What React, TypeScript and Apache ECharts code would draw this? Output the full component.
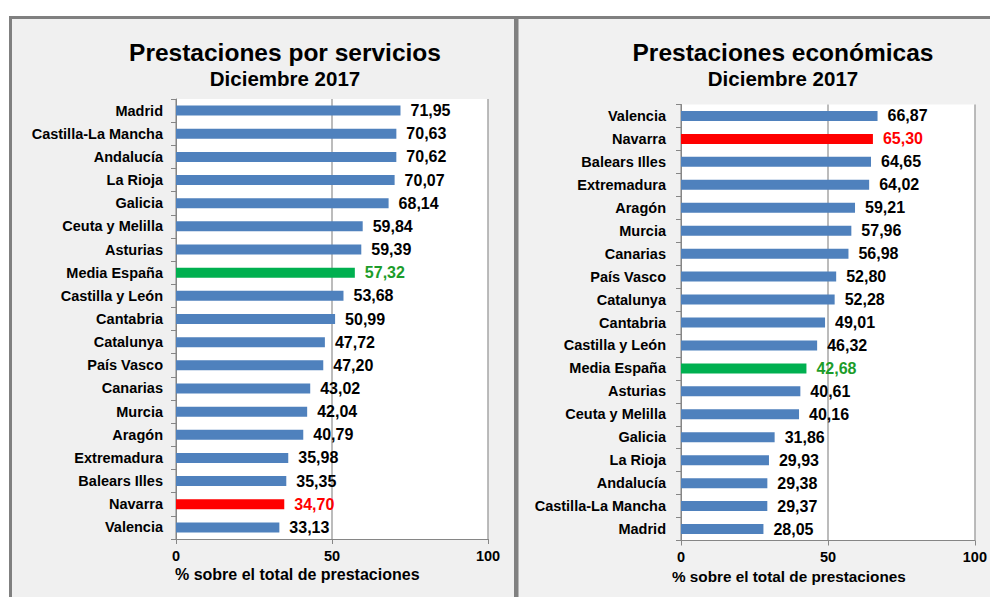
import React, { useEffect, useRef } from "react";
import * as echarts from "echarts";

const leftCategories = [
  "Madrid", "Castilla-La Mancha", "Andalucía", "La Rioja", "Galicia", "Ceuta y Melilla",
  "Asturias", "Media España", "Castilla y León", "Cantabria", "Catalunya", "País Vasco",
  "Canarias", "Murcia", "Aragón", "Extremadura", "Balears Illes", "Navarra", "Valencia",
];
const leftValues = [
  71.95, 70.63, 70.62, 70.07, 68.14, 59.84, 59.39, 57.32, 53.68, 50.99, 47.72, 47.2,
  43.02, 42.04, 40.79, 35.98, 35.35, 34.7, 33.13,
];

const rightCategories = [
  "Valencia", "Navarra", "Balears Illes", "Extremadura", "Aragón", "Murcia", "Canarias",
  "País Vasco", "Catalunya", "Cantabria", "Castilla y León", "Media España", "Asturias",
  "Ceuta y Melilla", "Galicia", "La Rioja", "Andalucía", "Castilla-La Mancha", "Madrid",
];
const rightValues = [
  66.87, 65.3, 64.65, 64.02, 59.21, 57.96, 56.98, 52.8, 52.28, 49.01, 46.32, 42.68,
  40.61, 40.16, 31.86, 29.93, 29.38, 29.37, 28.05,
];

const xTicks = [0, 50, 100];
const titles = ["Prestaciones por servicios", "Prestaciones económicas"];
const subtitle = "Diciembre 2017";
const axisName = "% sobre el total de prestaciones";

const FONT = "'Liberation Sans', Arial, sans-serif";
const BLUE = "#4f81bd";
const GREEN = "#00b050";
const GREEN_TEXT = "#1c9c2a";
const RED = "#ff0000";

function buildData(cats: string[], vals: number[]) {
  return vals.map((v, i) => {
    const c = cats[i];
    let bar = BLUE;
    let txt = "#000";
    if (c === "Media España") { bar = GREEN; txt = GREEN_TEXT; }
    if (c === "Navarra") { bar = RED; txt = RED; }
    return { value: v, itemStyle: { color: bar }, label: { color: txt } };
  });
}

export default function App() {
  const ref = useRef<HTMLDivElement>(null);
  useEffect(() => {
    if (!ref.current) return;
    const chart = echarts.init(ref.current, null, { renderer: "svg" });

    const xAxisCommon = (gi: number) => ({
      type: "value",
      gridIndex: gi,
      min: xTicks[0],
      max: xTicks[xTicks.length - 1],
      interval: 50,
      axisLine: { show: true, lineStyle: { color: "#868686", width: 1 } },
      axisTick: { show: true, length: 5, lineStyle: { color: "#868686" } },
      splitLine: { show: true, lineStyle: { color: "#a6a6a6", width: 1.5 } },
      axisLabel: {
        color: "#000", fontFamily: FONT, fontWeight: "bold", fontSize: 14.5, margin: 9,
        showMinLabel: true, showMaxLabel: true,
      },
    });
    const yAxisCommon = (gi: number, cats: string[], margin: number) => ({
      type: "category",
      gridIndex: gi,
      data: cats,
      inverse: true,
      axisLine: { show: true, lineStyle: { color: "#868686", width: 1 } },
      axisTick: { show: true, length: 5, alignWithLabel: false, lineStyle: { color: "#868686" } },
      splitLine: { show: false },
      axisLabel: {
        color: "#000", fontFamily: FONT, fontWeight: "bold", fontSize: 14.5, margin,
        interval: 0,
      },
    });
    const seriesLabel = {
      show: true,
      position: "right",
      distance: 10,
      fontFamily: FONT,
      fontWeight: "bold",
      fontSize: 16,
      formatter: (p: any) => Number(p.value).toFixed(2).replace(".", ","),
    };

    chart.setOption({
      animation: false,
      backgroundColor: "#ffffff",
      graphic: [
        {
          type: "rect", z: -10, silent: true,
          shape: { x: 10.5, y: 17.5, width: 505, height: 600 },
          style: { fill: "#f0f0f0", stroke: "#808080", lineWidth: 3 },
        },
        {
          type: "rect", z: -10, silent: true,
          shape: { x: 517, y: 17.5, width: 500, height: 600 },
          style: { fill: "#f1f1f1", stroke: "#808080", lineWidth: 3 },
        },
        {
          type: "text", left: 175, top: 566, silent: true,
          style: { text: axisName, fill: "#000", font: `bold 16px ${FONT}` },
        },
        {
          type: "text", left: 672, top: 569, silent: true,
          style: { text: axisName, fill: "#000", font: `bold 15.3px ${FONT}` },
        },
      ],
      title: [
        {
          text: titles[0], subtext: subtitle, left: 280, top: 35, textAlign: "center", itemGap: 3,
          textStyle: { fontFamily: FONT, fontWeight: "bold", fontSize: 24.5, color: "#000" },
          subtextStyle: { fontFamily: FONT, fontWeight: "bold", fontSize: 20.5, color: "#000" },
        },
        {
          text: titles[1], subtext: subtitle, left: 778, top: 35, textAlign: "center", itemGap: 3,
          textStyle: { fontFamily: FONT, fontWeight: "bold", fontSize: 24.5, color: "#000" },
          subtextStyle: { fontFamily: FONT, fontWeight: "bold", fontSize: 20.5, color: "#000" },
        },
      ],
      grid: [
        { left: 176, top: 99, width: 312, height: 440, show: true, backgroundColor: "#ffffff", borderWidth: 0 },
        { left: 681, top: 104.5, width: 298, height: 436, show: true, backgroundColor: "#ffffff", borderWidth: 0 },
      ],
      xAxis: [xAxisCommon(0), xAxisCommon(1)],
      yAxis: [yAxisCommon(0, leftCategories, 13), yAxisCommon(1, rightCategories, 15)],
      series: [
        {
          type: "bar", xAxisIndex: 0, yAxisIndex: 0, barWidth: 10,
          data: buildData(leftCategories, leftValues), label: seriesLabel,
        },
        {
          type: "bar", xAxisIndex: 1, yAxisIndex: 1, barWidth: 10,
          data: buildData(rightCategories, rightValues), label: seriesLabel,
        },
      ],
    });
    return () => chart.dispose();
  }, []);
  return (
    <div
      ref={ref}
      style={{ position: "fixed", left: 0, top: 0, width: 990, height: 597 }}
    />
  );
}
